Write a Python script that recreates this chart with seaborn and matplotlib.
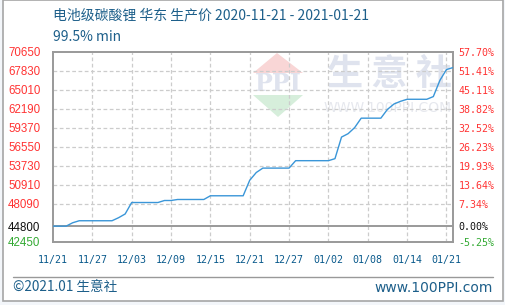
import matplotlib
matplotlib.use("Agg")
import matplotlib.pyplot as plt
import seaborn as sns
import pandas as pd
from matplotlib.patches import Rectangle, Polygon

# ---------------- data ----------------
title = "电池级碳酸锂 华东 生产价 2020-11-21 - 2021-01-21"
subtitle = "99.5% min"
day_index = list(range(62))
prices = [44800, 44800, 44800, 45300, 45600, 45600, 45600, 45600, 45600, 45600,
          46050, 46600, 48300, 48300, 48300, 48300, 48300, 48600, 48600, 48750,
          48750, 48750, 48750, 48750, 49300, 49300, 49300, 49300, 49300, 49300,
          51600, 52750, 53400, 53400, 53400, 53400, 53400, 54500, 54500, 54500,
          54500, 54500, 54500, 54800, 58000, 58500, 59400, 60800, 60800, 60800,
          60800, 62100, 62900, 63300, 63600, 63600, 63600, 63600, 64000, 66400,
          68000, 68300]
x_tick_pos = [0, 6, 12, 18, 24, 30, 36, 42, 48, 54, 60]
x_tick_labels = ["11/21", "11/27", "12/03", "12/09", "12/15", "12/21",
                 "12/27", "01/02", "01/08", "01/14", "01/21"]
y_ticks = [70650, 67830, 65010, 62190, 59370, 56550, 53730, 50910, 48090, 44800, 42450]
y_tick_labels = ["70650", "67830", "65010", "62190", "59370", "56550", "53730",
                 "50910", "48090", "44800", "42450"]
pct_labels = ["57.70%", "51.41%", "45.11%", "38.82%", "32.52%", "26.23%", "19.93%",
              "13.64%", "7.34%", "0.00%", "-5.25%"]
base_value = 44800
footer_left = "©2021.01 生意社"
footer_right = "www.100PPI.com"

df = pd.DataFrame({"day": day_index, "price": prices})

# ---------------- style ----------------
sns.set_style("white")
plt.rcParams["font.family"] = ["DejaVu Sans"]
CJK = ["Noto Sans CJK SC", "DejaVu Sans"]

W, H = 505, 305
fig = plt.figure(figsize=(W / 100, H / 100), dpi=100, facecolor="#f3f6fa")


def fx(px):
    return px / W


def fy(py):
    return 1 - py / H


# outer white panel with grey border
fig.patches.append(Rectangle((fx(3.3), fy(300.7)), (502.7 - 3.3) / W, 300.7 / H,
                             transform=fig.transFigure, facecolor="white",
                             edgecolor="#a6a6a6", linewidth=1.2, zorder=-2))

# watermark (figure pixel coords), behind the axes
fig.patches.append(Polygon([(fx(253), fy(73)), (fx(303), fy(73)), (fx(277), fy(53))],
                           closed=True, transform=fig.transFigure,
                           facecolor="#f9d6d6", edgecolor="none", zorder=-1))
fig.patches.append(Polygon([(fx(253), fy(95)), (fx(303), fy(95)), (fx(278), fy(117))],
                           closed=True, transform=fig.transFigure,
                           facecolor="#d6eedb", edgecolor="none", zorder=-1))
fig.text(fx(278), fy(84), "PPI", fontsize=17, color="#dfe3ee", ha="center",
         va="center", family="DejaVu Serif", fontweight="bold", zorder=-1)
fig.text(fx(389), fy(74), "生 意 社", fontsize=26, color="#dfe3ee", ha="center",
         va="center", family=CJK, fontweight="bold", zorder=-1)
fig.text(fx(388), fy(108), "WWW.100PPI.COM", fontsize=10, color="#e6e8ee",
         ha="center", va="center", zorder=-1)

L, R, T, B = 53, 453, 51.7, 242
ax = fig.add_axes([fx(L), fy(B), (R - L) / W, (B - T) / H])
ax.set_zorder(2)
ax.patch.set_visible(False)

sns.lineplot(data=df, x="day", y="price", ax=ax, color="#3a96d8",
             linewidth=1.0, zorder=5)

ax.set_xlim(0, 61)
ax.set_ylim(42450, 70650)
ax.set_xlabel("")
ax.set_ylabel("")

# grid
for yv in y_ticks[1:-1]:
    if yv == base_value:
        ax.axhline(yv, color="#999999", linewidth=1.4, zorder=3)
    else:
        ax.axhline(yv, color="#cccccc", linewidth=0.9, linestyle=(0, (3, 2)), zorder=2)
for xv in x_tick_pos[1:]:
    ax.axvline(xv, color="#cccccc", linewidth=0.9, linestyle=(0, (3, 2)), zorder=2)

for s in ax.spines.values():
    s.set_visible(True)
    s.set_color("#999999")
    s.set_linewidth(1.4)

# y tick labels (left)
ax.set_yticks(y_ticks)
ax.set_yticklabels(y_tick_labels)
ax.tick_params(axis="y", length=0, pad=45 * 0.72, labelsize=8.3)
for lab, txt in zip(ax.get_yticklabels(), y_tick_labels):
    lab.set_ha("left")
    lab.set_family("Liberation Sans")
    if txt == "44800":
        lab.set_color("#111111")
    elif txt == "42450":
        lab.set_color("#33aa33")
    else:
        lab.set_color("#ff3333")

# x tick labels
ax.set_xticks(x_tick_pos)
ax.set_xticklabels(x_tick_labels)
ax.tick_params(axis="x", length=0, pad=9.4, labelsize=7.2, labelcolor="#0a5a8c")
for lab in ax.get_xticklabels():
    lab.set_family("DejaVu Sans Mono")

# right percent axis
ax2 = ax.twinx()
ax2.set_zorder(3)
ax2.patch.set_visible(False)
ax2.set_ylim(42450, 70650)
ax2.set_yticks(y_ticks)
ax2.set_yticklabels(pct_labels)
ax2.tick_params(axis="y", length=0, pad=4, labelsize=7.2)
for lab, txt in zip(ax2.get_yticklabels(), pct_labels):
    lab.set_family("DejaVu Sans Mono")
    lab.set_ha("left")
    if txt == "0.00%":
        lab.set_color("#111111")
    elif txt.startswith("-"):
        lab.set_color("#33aa33")
    else:
        lab.set_color("#ff3333")
for s in ax2.spines.values():
    s.set_visible(False)

# titles
fig.text(fx(53), fy(15), title, fontsize=10, color="#1d5f8a", family=CJK,
         ha="left", va="center")
fig.text(fx(53), fy(37), subtitle, fontsize=10, color="#1d5f8a", family=CJK,
         ha="left", va="center")

# footer
fig.add_artist(plt.Line2D([fx(13.3), fx(493)], [fy(277.3), fy(277.3)],
                          transform=fig.transFigure, color="#999999", linewidth=1))
fig.text(fx(13.3), fy(287.5), footer_left, fontsize=9.8, color="#1d5f8a", family=CJK,
         ha="left", va="center")
fig.text(fx(493), fy(287.5), footer_right, fontsize=10, color="#1d5f8a",
         ha="right", va="center")

fig.savefig("out.png", dpi=100, facecolor=fig.get_facecolor())
